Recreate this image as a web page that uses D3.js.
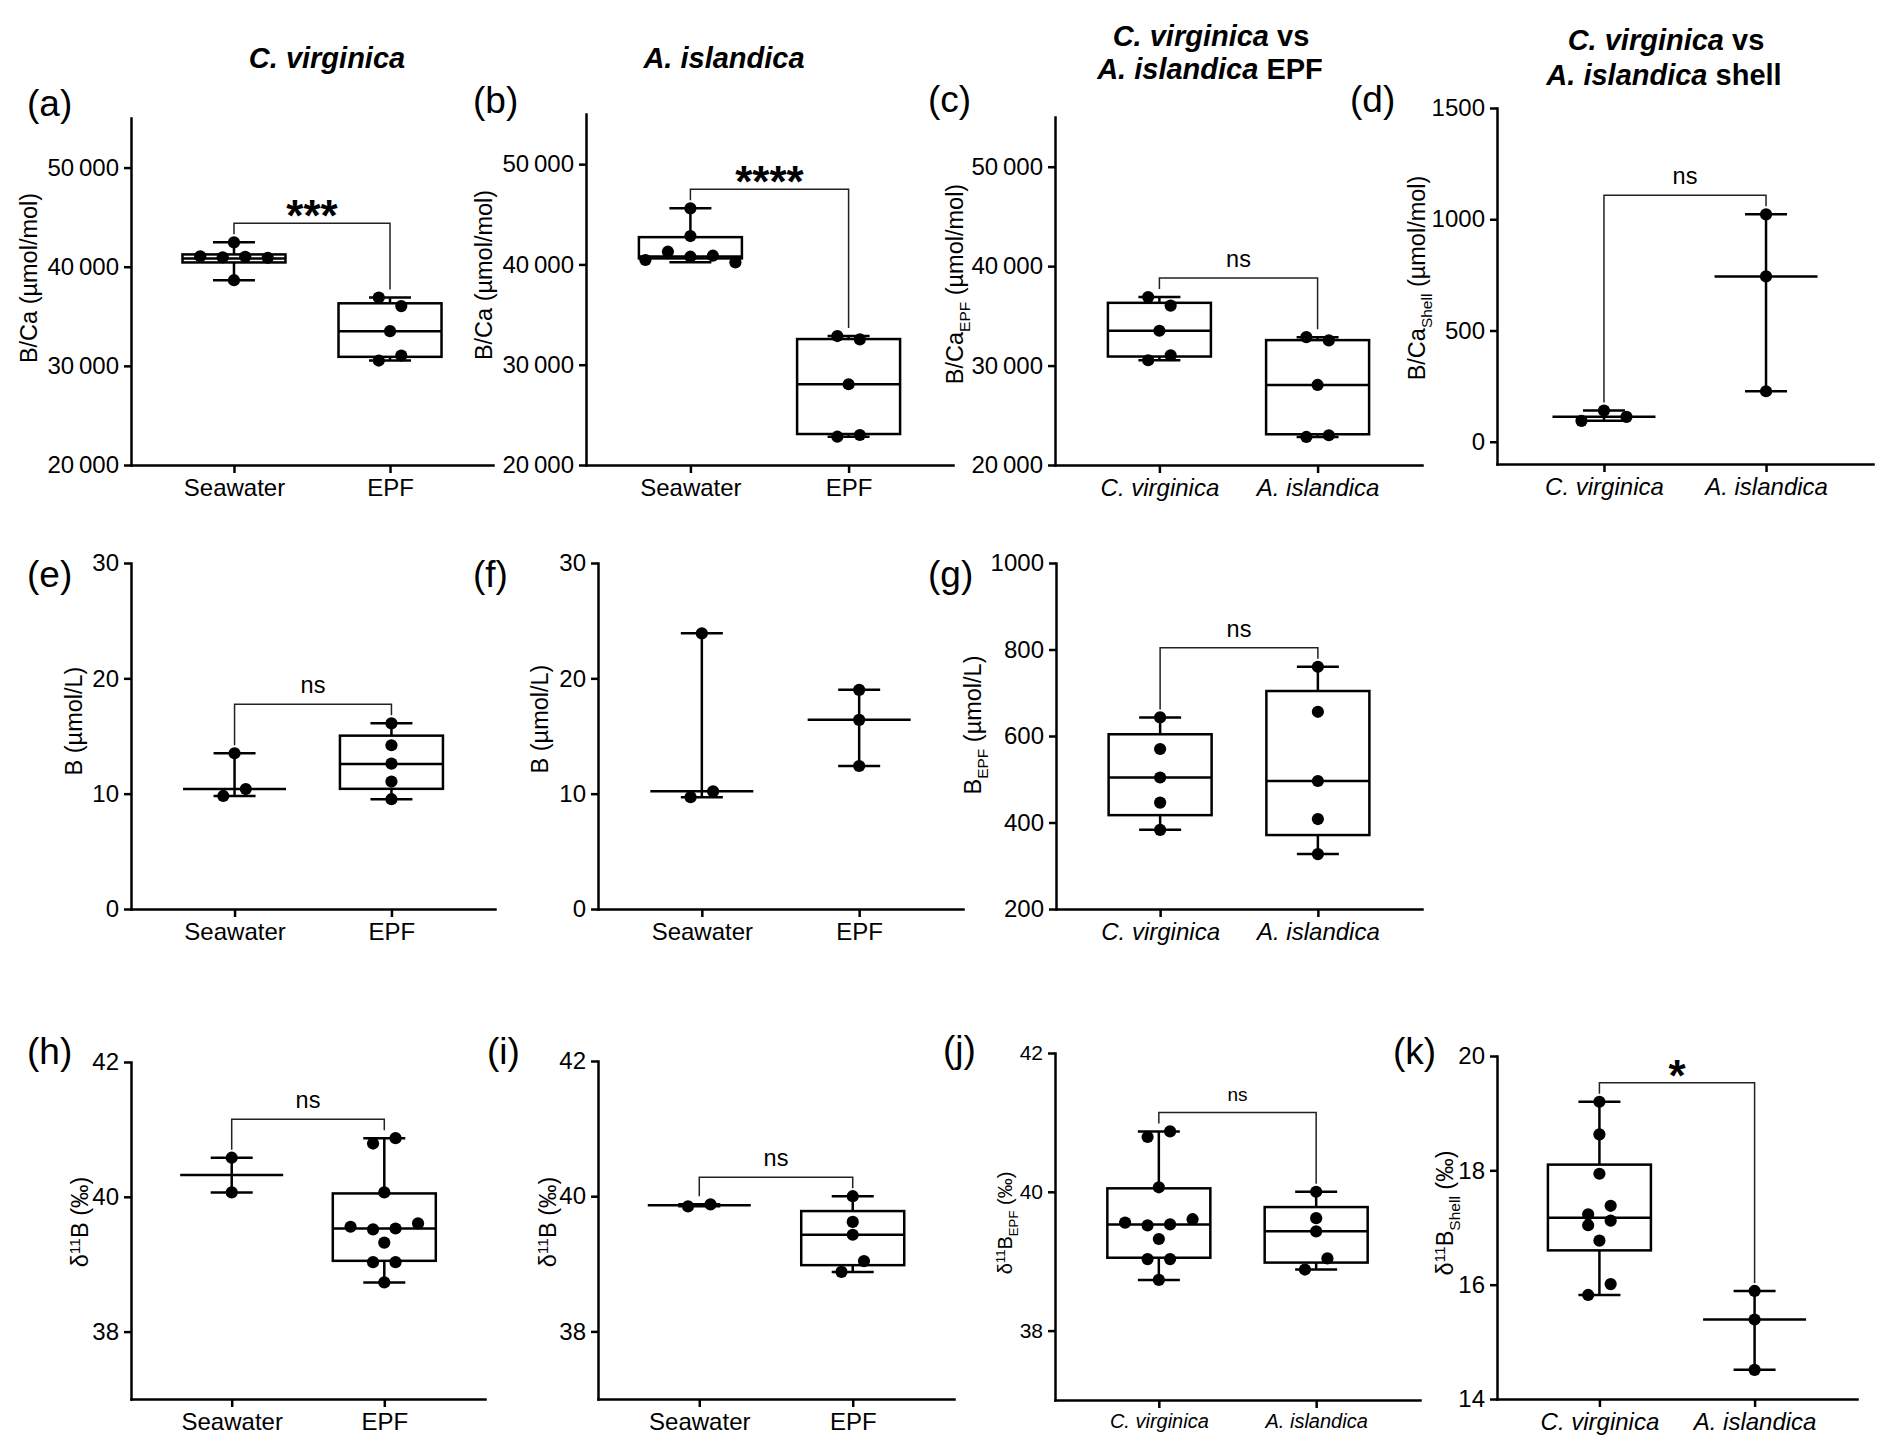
<!DOCTYPE html>
<html>
<head>
<meta charset="utf-8">
<script src="https://cdn.jsdelivr.net/npm/d3@7"></script>
<style>
  body { margin: 0; background: #fff; }
  svg { display: block; font-family: "Liberation Sans", Arial, sans-serif; }
</style>
</head>
<body>
<div id="chart"></div>
<script>
const width = 1892;
const height = 1456;

// categories
const sourceCats = ["Seawater", "EPF"];
const speciesCats = ["C. virginica", "A. islandica"];

// B/Ca (µmol/mol)
const bcaCvSeawater = [42460, 41050, 40950, 41000, 40900, 38640];
const bcaCvEpf = [36890, 36030, 33500, 30535, 31040];
const bcaAiSeawater = [45590, 42830, 40440, 41270, 40770, 40870, 40210];
const bcaAiEpf = [32860, 32530, 28050, 22820, 22990];
const bcaCvShell = [94, 140, 112];
const bcaAiShell = [1022, 743, 227];

// B (µmol/L)
const bCvSeawater = [13.5, 9.8, 10.4];
const bCvEpf = [16.1, 14.2, 12.6, 11.05, 9.52];
const bAiSeawater = [23.9, 9.7, 10.2];
const bAiEpf = [19.0, 16.4, 12.4];
const bEpfCv = [643, 570, 504, 446, 383];
const bEpfAi = [760, 656, 496, 408, 327];

// δ11B (‰)
const d11bCvSeawater = [40.58, 40.065];
const d11bCvEpf = [40.79, 40.87, 40.065, 39.556, 39.517, 39.53, 39.605, 39.32, 39.03, 39.03, 38.73];
const d11bAiSeawater = [39.85, 39.88];
const d11bAiEpf = [40.0, 39.62, 39.43, 38.88, 39.04];
const d11bCvShell = [19.2, 18.63, 17.94, 17.23, 17.38, 17.04, 17.12, 16.77, 15.82, 16.01];
const d11bAiShell = [15.89, 15.39, 14.51];

// box quartiles [q1, median, q3] as drawn
const boxBcaCvSeawater = [40430, 40840, 41240];
const boxBcaCvEpf = [30910, 33500, 36310];
const boxBcaAiSeawater = [40600, 40800, 42720];
const boxBcaAiEpf = [23090, 28050, 32560];
const boxBCvEpf = [10.42, 12.58, 15.03];
const boxBEpfCv = [417, 504, 604];
const boxBEpfAi = [371, 496, 704];
const boxD11bCvEpf = [39.05, 39.53, 40.05];
const boxD11bAiEpf = [38.98, 39.43, 39.78];
const boxD11bCvShell = [16.6, 17.17, 18.1];

// tick values
const ticksBca = [20000, 30000, 40000, 50000];
const ticksBcaShell = [0, 500, 1000, 1500];
const ticksB = [0, 10, 20, 30];
const ticksBEpf = [200, 400, 600, 800, 1000];
const ticksD11b = [38, 40, 42];
const ticksD11bShell = [14, 16, 18, 20];

const fmtSpace = (v) => d3.format(",")(v).replace(/,/g, "\u2009");
const fmtPlain = d3.format("d");

const panels = [
  { label: "(a)", lx: 27, ly: 116, x0: 131, x1: 493, yTop: 118, yBot: 465, domain: [20000, 55000],
    ticks: ticksBca, format: fmtSpace, cats: sourceCats, italic: false,
    groups: [[bcaCvSeawater, boxBcaCvSeawater], [bcaCvEpf, boxBcaCvEpf]], sig: "***",
    title: [["B/Ca (µmol/mol)"]], tx: 37, ty: 278 },
  { label: "(b)", lx: 473, ly: 113, x0: 586, x1: 953, yTop: 114, yBot: 465, domain: [20000, 55000],
    ticks: ticksBca, format: fmtSpace, cats: sourceCats, italic: false,
    groups: [[bcaAiSeawater, boxBcaAiSeawater], [bcaAiEpf, boxBcaAiEpf]], sig: "****",
    title: [["B/Ca (µmol/mol)"]], tx: 492, ty: 275 },
  { label: "(c)", lx: 928, ly: 112, x0: 1055, x1: 1422, yTop: 117, yBot: 465, domain: [20000, 55000],
    ticks: ticksBca, format: fmtSpace, cats: speciesCats, italic: true,
    groups: [[bcaCvEpf, boxBcaCvEpf], [bcaAiEpf, boxBcaAiEpf]], sig: "ns",
    title: [["B/Ca"], ["EPF", "sub"], [" (µmol/mol)"]], tx: 963, ty: 284 },
  { label: "(d)", lx: 1350, ly: 112, x0: 1497, x1: 1873, yTop: 108, yBot: 464, domain: [-100, 1500],
    ticks: ticksBcaShell, format: fmtPlain, cats: speciesCats, italic: true,
    groups: [[bcaCvShell, null], [bcaAiShell, null]], sig: "ns",
    title: [["B/Ca"], ["Shell", "sub"], [" (µmol/mol)"]], tx: 1425, ty: 278 },
  { label: "(e)", lx: 27, ly: 587, x0: 131, x1: 495, yTop: 563, yBot: 909, domain: [0, 30],
    ticks: ticksB, format: fmtPlain, cats: sourceCats, italic: false,
    groups: [[bCvSeawater, null], [bCvEpf, boxBCvEpf]], sig: "ns",
    title: [["B (µmol/L)"]], tx: 82, ty: 721 },
  { label: "(f)", lx: 473, ly: 587, x0: 598, x1: 963, yTop: 563, yBot: 909, domain: [0, 30],
    ticks: ticksB, format: fmtPlain, cats: sourceCats, italic: false,
    groups: [[bAiSeawater, null], [bAiEpf, null]], sig: null,
    title: [["B (µmol/L)"]], tx: 548, ty: 719 },
  { label: "(g)", lx: 928, ly: 587, x0: 1056, x1: 1422, yTop: 563, yBot: 909, domain: [200, 1000],
    ticks: ticksBEpf, format: fmtPlain, cats: speciesCats, italic: true,
    groups: [[bEpfCv, boxBEpfCv], [bEpfAi, boxBEpfAi]], sig: "ns",
    title: [["B"], ["EPF", "sub"], [" (µmol/L)"]], tx: 981, ty: 725 },
  { label: "(h)", lx: 27, ly: 1064, x0: 131, x1: 485, yTop: 1062, yBot: 1399, domain: [37, 42],
    ticks: ticksD11b, format: fmtPlain, cats: sourceCats, italic: false,
    groups: [[d11bCvSeawater, null], [d11bCvEpf, boxD11bCvEpf]], sig: "ns",
    title: [["δ"], ["11", "sup"], ["B (‰)"]], tx: 88, ty: 1222 },
  { label: "(i)", lx: 487, ly: 1064, x0: 598, x1: 954, yTop: 1061, yBot: 1399, domain: [37, 42],
    ticks: ticksD11b, format: fmtPlain, cats: sourceCats, italic: false,
    groups: [[d11bAiSeawater, null], [d11bAiEpf, boxD11bAiEpf]], sig: "ns",
    title: [["δ"], ["11", "sup"], ["B (‰)"]], tx: 556, ty: 1222 },
  { label: "(j)", lx: 943, ly: 1062, x0: 1055, x1: 1420, yTop: 1053, yBot: 1400, domain: [37, 42],
    ticks: ticksD11b, format: fmtPlain, cats: speciesCats, italic: true, small: true,
    groups: [[d11bCvEpf, boxD11bCvEpf], [d11bAiEpf, boxD11bAiEpf]], sig: "ns",
    title: [["δ"], ["11", "sup"], ["B"], ["EPF", "sub"], [" (‰)"]], tx: 1012, ty: 1223 },
  { label: "(k)", lx: 1393, ly: 1064, x0: 1497, x1: 1857, yTop: 1056, yBot: 1399, domain: [14, 20],
    ticks: ticksD11bShell, format: fmtPlain, cats: speciesCats, italic: true,
    groups: [[d11bCvShell, boxD11bCvShell], [d11bAiShell, null]], sig: "*",
    title: [["δ"], ["11", "sup"], ["B"], ["Shell", "sub"], [" (‰)"]], tx: 1453, ty: 1213 },
];

const headers = [
  { x: 327, y: 68, parts: [["C. virginica", true]] },
  { x: 724, y: 68, parts: [["A. islandica", true]] },
  { x: 1211, y: 46, parts: [["C. virginica", true], [" vs", false]] },
  { x: 1210, y: 79, parts: [["A. islandica", true], [" EPF", false]] },
  { x: 1666, y: 50, parts: [["C. virginica", true], [" vs", false]] },
  { x: 1664, y: 85, parts: [["A. islandica", true], [" shell", false]] },
];

const LW = 2.5;
const R = 6.1;
const ROW_GAP = 11.6;
const BOX_W = 103;
const CAP_W = 42;
const DOT_STEP = 22.5;

const svg = d3
  .select("#chart")
  .append("svg")
  .attr("width", width)
  .attr("height", height)
  .attr("viewBox", `0 0 ${width} ${height}`);

svg.append("rect").attr("width", width).attr("height", height).attr("fill", "#fff");

// spread points that sit at almost the same height into centred rows
function swarm(values, y) {
  const order = d3.range(values.length).sort((i, j) => values[j] - values[i]);
  const rows = [];
  let row = null;
  for (const i of order) {
    if (row && Math.abs(y(values[i]) - y(values[row[0]])) < ROW_GAP) row.push(i);
    else rows.push((row = [i]));
  }
  const dx = new Array(values.length);
  rows.forEach((r) => {
    r.sort(d3.ascending);
    r.forEach((i, k) => (dx[i] = (k - (r.length - 1) / 2) * DOT_STEP));
  });
  return dx;
}

function richText(sel, parts, size) {
  let shift = 0;
  parts.forEach(([t, mode]) => {
    const ts = sel.append("tspan").text(t);
    const target = mode === "sub" ? size * 0.28 : mode === "sup" ? -size * 0.36 : 0;
    if (target !== shift) ts.attr("dy", target - shift);
    shift = target;
    if (mode) ts.attr("font-size", size * 0.66);
  });
}

function line(g, x1, y1, x2, y2) {
  g.append("line")
    .attr("x1", x1).attr("y1", y1).attr("x2", x2).attr("y2", y2)
    .attr("stroke", "#000").attr("stroke-width", LW);
}

panels.forEach((p) => {
  const g = svg.append("g");
  const tickFont = p.small ? 21 : 24;
  const catFont = p.small ? 20 : 24;
  const titleFont = p.small ? 20 : 23.5;

  const x = d3.scalePoint().domain(p.cats).range([p.x0, p.x1]).padding(0.66);
  const y = d3.scaleLinear().domain(p.domain).range([p.yBot, p.yTop]);

  const xAxis = g
    .append("g")
    .attr("transform", `translate(0,${p.yBot})`)
    .call(d3.axisBottom(x).tickSize(8).tickSizeOuter(0).tickPadding(6));
  xAxis.selectAll("text")
    .attr("font-size", catFont)
    .attr("font-family", "Liberation Sans, Arial, sans-serif")
    .attr("font-style", p.italic ? "italic" : "normal")
    .attr("fill", "#000");

  const yAxis = g
    .append("g")
    .attr("transform", `translate(${p.x0},0)`)
    .call(d3.axisLeft(y).tickValues(p.ticks).tickFormat(p.format).tickSize(7).tickSizeOuter(0).tickPadding(5));
  yAxis.selectAll("text")
    .attr("font-size", tickFont)
    .attr("font-family", "Liberation Sans, Arial, sans-serif")
    .attr("fill", "#000");

  [xAxis, yAxis].forEach((a) => {
    a.select(".domain").attr("stroke", "#000").attr("stroke-width", LW).attr("stroke-linecap", "square");
    a.selectAll(".tick line").attr("stroke", "#000").attr("stroke-width", LW);
  });

  // y title
  const title = g
    .append("text")
    .attr("transform", `translate(${p.tx},${p.ty}) rotate(-90)`)
    .attr("text-anchor", "middle")
    .attr("font-size", titleFont)
    .attr("fill", "#000");
  richText(title, p.title, titleFont);

  // panel letter
  svg.append("text")
    .attr("x", p.lx).attr("y", p.ly)
    .attr("font-size", 37)
    .attr("fill", "#000")
    .text(p.label);

  // boxes / ranges
  p.groups.forEach(([values, box], gi) => {
    const cx = x(p.cats[gi]);
    const lo = d3.min(values);
    const hi = d3.max(values);
    if (box) {
      const [q1, med, q3] = box;
      line(g, cx, y(q3), cx, y(hi));
      line(g, cx, y(q1), cx, y(lo));
      g.append("rect")
        .attr("x", cx - BOX_W / 2).attr("y", y(q3))
        .attr("width", BOX_W).attr("height", y(q1) - y(q3))
        .attr("fill", "none").attr("stroke", "#000").attr("stroke-width", LW);
      line(g, cx - BOX_W / 2, y(med), cx + BOX_W / 2, y(med));
    } else {
      line(g, cx, y(hi), cx, y(lo));
      const med = d3.median(values);
      line(g, cx - BOX_W / 2, y(med), cx + BOX_W / 2, y(med));
    }
    line(g, cx - CAP_W / 2, y(hi), cx + CAP_W / 2, y(hi));
    line(g, cx - CAP_W / 2, y(lo), cx + CAP_W / 2, y(lo));
  });

  // points
  p.groups.forEach(([values], gi) => {
    const cx = x(p.cats[gi]);
    const dx = swarm(values, y);
    g.append("g")
      .selectAll("circle")
      .data(values)
      .join("circle")
      .attr("cx", (d, i) => cx + dx[i])
      .attr("cy", (d) => y(d))
      .attr("r", R)
      .attr("fill", "#000");
  });

  // significance bracket
  if (p.sig) {
    const tops = p.groups.map(([values]) => y(d3.max(values)));
    const by = Math.min(...tops) - 19;
    const xa = x(p.cats[0]);
    const xb = x(p.cats[1]);
    g.append("path")
      .attr("d", `M${xa},${tops[0] - 8}V${by}H${xb}V${tops[1] - 8}`)
      .attr("fill", "none")
      .attr("stroke", "#222")
      .attr("stroke-width", 1.5);
    const stars = p.sig.startsWith("*");
    g.append("text")
      .attr("x", (xa + xb) / 2)
      .attr("y", stars ? by + 8 : by - 11)
      .attr("text-anchor", "middle")
      .attr("font-size", stars ? 44 : p.small ? 19 : 23.5)
      .attr("font-weight", stars ? "bold" : "normal")
      .attr("fill", "#000")
      .text(p.sig);
  }
});

// column headers
headers.forEach((h) => {
  const t = svg.append("text")
    .attr("x", h.x).attr("y", h.y)
    .attr("text-anchor", "middle")
    .attr("font-size", 29)
    .attr("font-weight", "bold")
    .attr("fill", "#000");
  h.parts.forEach(([s, it]) => t.append("tspan").attr("font-style", it ? "italic" : "normal").text(s));
});
</script>
</body>
</html>
